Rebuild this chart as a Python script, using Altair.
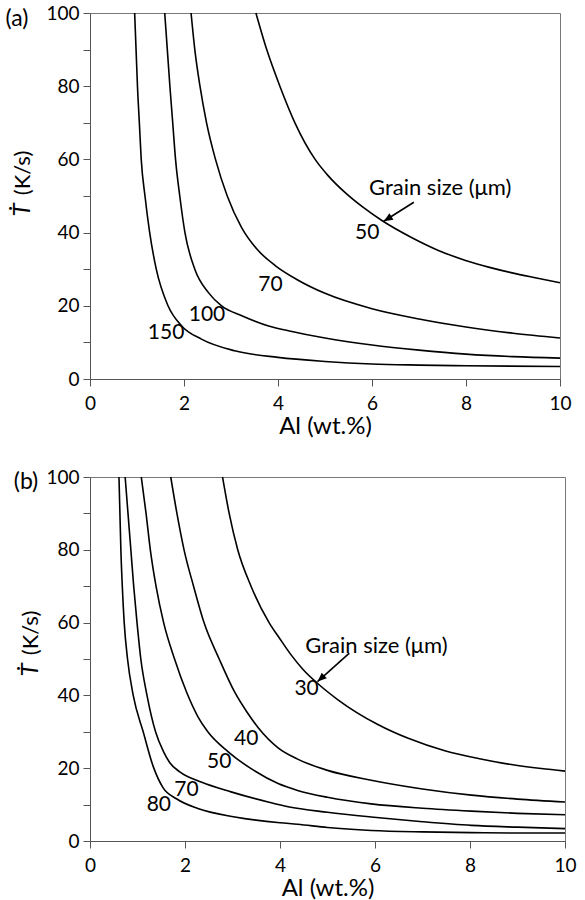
import altair as alt
import pandas as pd

FONT = "Lato"

# ---------------- Panel (a) data ----------------
A_SIZES = [50, 70, 100, 150]
A50_X = [3.53, 3.76, 4.04, 4.36, 4.79, 5.07, 5.43, 5.8, 6.21, 6.85, 7.4, 7.99, 8.5, 8.98, 9.5, 10.0]
A50_Y = [100, 90, 80, 70, 60, 55.5, 50.9, 47.0, 43.3, 38.6, 35.2, 32.4, 30.5, 29.0, 27.6, 26.3]
A70_X = [2.15, 2.23, 2.34, 2.48, 2.67, 2.92, 3.22, 3.55, 3.94, 4.4, 5.0, 6.0, 7.0, 8.0, 9.0, 10.0]
A70_Y = [100, 90, 80, 70, 60, 50, 41.5, 35.5, 31, 27.2, 23.4, 19.2, 16.4, 14.2, 12.5, 11.2]
A100_X = [1.59, 1.645, 1.70, 1.76, 1.82, 1.91, 2.02, 2.23, 2.52, 2.80, 3.23, 3.8, 4.22, 5.0, 6.0, 7.0, 8.0, 9.0, 10.0]
A100_Y = [100, 90, 80, 70, 60, 50, 40, 30, 23.6, 20, 17.3, 14.5, 13.2, 11.2, 9.3, 7.9, 6.8, 6.1, 5.7]
A150_X = [0.95, 0.98, 1.01, 1.05, 1.09, 1.17, 1.27, 1.41, 1.66, 1.95, 2.37, 3.08, 4.0, 5.0, 6.0, 7.0, 8.0, 10.0]
A150_Y = [100, 90, 80, 70, 60, 50, 40, 30, 20, 14.5, 10.9, 7.7, 5.9, 4.8, 4.1, 3.8, 3.6, 3.4]

A_LABEL_TEXT = ["50", "70", "100", "150"]
A_LABEL_X = [5.90, 3.84, 2.49, 1.62]
A_LABEL_Y = [40.0, 25.7, 17.5, 12.5]
A_NOTE_X = [7.45]
A_NOTE_Y = [52.2]
A_ARROW_FROM = [6.89, 48.3]
A_ARROW_TO = [6.25, 43.1]

# ---------------- Panel (b) data ----------------
B_SIZES = [30, 40, 50, 70, 80]
B30_X = [2.79, 2.93, 3.11, 3.39, 3.77, 4.0, 4.23, 4.48, 4.8, 5.22, 6.06, 6.7, 7.47, 8.2, 8.87, 9.5, 10.0]
B30_Y = [100, 90, 80, 70, 60, 55.5, 51.2, 47.2, 43.2, 38.8, 32.0, 28.2, 24.8, 22.6, 21.0, 19.9, 19.2]
B40_X = [1.70, 1.83, 1.98, 2.18, 2.40, 2.72, 3.05, 3.3, 3.55, 3.96, 4.37, 5.0, 5.92, 7.0, 8.03, 9.0, 10.0]
B40_Y = [100, 90, 80, 70, 60, 50, 40.8, 35.5, 31.0, 25.6, 22.5, 19.4, 16.7, 14.3, 12.6, 11.5, 10.7]
B50_X = [1.08, 1.18, 1.27, 1.39, 1.55, 1.78, 2.03, 2.27, 2.48, 2.91, 3.40, 3.96, 4.37, 5.0, 5.92, 7.0, 8.03, 9.0, 10.0]
B50_Y = [100, 90, 80, 70, 60, 50, 41, 34.2, 30, 24.5, 19.8, 15.8, 13.9, 12.0, 10.2, 9.0, 8.2, 7.6, 7.2]
B70_X = [0.74, 0.80, 0.86, 0.92, 0.99, 1.07, 1.20, 1.38, 1.55, 1.68, 1.89, 2.34, 2.97, 3.75, 4.17, 5.0, 5.92, 7.0, 8.03, 9.0, 10.0]
B70_Y = [100, 90, 80, 70, 60, 50, 40, 30, 24.5, 21.5, 19, 16.2, 13.5, 10.7, 9.4, 7.9, 6.6, 5.3, 4.3, 3.8, 3.4]
B80_X = [0.61, 0.63, 0.65, 0.68, 0.72, 0.79, 0.91, 1.12, 1.33, 1.54, 1.82, 2.27, 3.05, 4.0, 4.37, 5.0, 5.92, 7.0, 8.03, 9.0, 10.0]
B80_Y = [100, 90, 80, 70, 60, 50, 40, 30, 20.5, 14.6, 11.6, 8.9, 6.6, 5.0, 4.6, 3.7, 2.9, 2.5, 2.3, 2.2, 2.2]

B_LABEL_TEXT = ["30", "40", "50", "70", "80"]
B_LABEL_X = [4.56, 3.29, 2.72, 2.03, 1.45]
B_LABEL_Y = [41.8, 28.1, 21.7, 14.0, 9.9]
B_NOTE_X = [6.03]
B_NOTE_Y = [53.7]
B_ARROW_FROM = [5.46, 51.6]
B_ARROW_TO = [4.79, 43.8]

NOTE_TEXT = "Grain size (\u03bcm)"
PANEL_TAGS = ["(a)", "(b)"]
X_TITLE = "Al (wt.%)"
Y_TITLE_SYMBOL = "\u1e6a"
Y_TITLE_UNIT = "(K/s)"
X_TICKS = [0, 2, 4, 6, 8, 10]
Y_TICKS = [0, 10, 20, 30, 40, 50, 60, 70, 80, 90, 100]


def panel(curves, sizes, lab_text, lab_x, lab_y, note_x, note_y, a_from, a_to,
          arrow_angle, tag, tag_pos, ytitle_pos, w, h):
    rows = []
    for s, (xs, ys) in zip(sizes, curves):
        for xv, yv in zip(xs, ys):
            rows.append({"size": s, "x": xv, "y": yv})
    df = pd.DataFrame(rows)

    xscale = alt.Scale(domain=[0, 10], nice=False, zero=False)
    yscale = alt.Scale(domain=[0, 100], nice=False, zero=False)
    xax = alt.Axis(values=X_TICKS, title=X_TITLE, labelPadding=8, titlePadding=1,
                   labelFlush=False)
    yax = alt.Axis(values=Y_TICKS, title=None, labelPadding=4,
                   labelExpr="datum.value % 20 === 0 ? datum.label : ''")

    def X(f):
        return alt.X(f, type="quantitative", scale=xscale, axis=xax)

    def Y(f):
        return alt.Y(f, type="quantitative", scale=yscale, axis=yax)

    lines = alt.Chart(df).mark_line(color="black", strokeWidth=1.6,
                                    interpolate="monotone").encode(
        x=X("x"), y=Y("y"), detail="size:N")

    ldf = pd.DataFrame({"x": lab_x, "y": lab_y, "t": lab_text})
    labels = alt.Chart(ldf).mark_text(font=FONT, fontSize=21, color="black").encode(
        x=X("x"), y=Y("y"), text="t:N")

    ndf = pd.DataFrame({"x": note_x, "y": note_y, "t": [NOTE_TEXT]})
    note = alt.Chart(ndf).mark_text(font=FONT, fontSize=22, color="black").encode(
        x=X("x"), y=Y("y"), text="t:N")

    adf = pd.DataFrame({"x": [a_from[0]], "y": [a_from[1]],
                        "x2": [a_to[0]], "y2": [a_to[1]]})
    arrow = alt.Chart(adf).mark_rule(color="black", strokeWidth=1.6).encode(
        x=X("x"), y=Y("y"), x2="x2", y2="y2")
    head = alt.Chart(adf).mark_point(shape="M0,0L-0.42,1L0.42,1Z", filled=True,
                                     size=330, angle=arrow_angle, color="black",
                                     opacity=1).encode(x=X("x2"), y=Y("y2"))

    tdf = pd.DataFrame({"t": [tag]})
    tag_mark = alt.Chart(tdf).mark_text(font=FONT, fontSize=23, color="black").encode(
        text="t:N", x=alt.value(tag_pos[0]), y=alt.value(tag_pos[1]))

    sdf = pd.DataFrame({"t": [Y_TITLE_SYMBOL]})
    ysym = alt.Chart(sdf).mark_text(font=FONT, fontSize=24, fontStyle="italic",
                                    color="black", angle=270).encode(
        text="t:N", x=alt.value(ytitle_pos[0]), y=alt.value(ytitle_pos[1]))
    udf = pd.DataFrame({"t": [Y_TITLE_UNIT]})
    yunit = alt.Chart(udf).mark_text(font=FONT, fontSize=22, color="black",
                                     angle=270).encode(
        text="t:N", x=alt.value(ytitle_pos[0]), y=alt.value(ytitle_pos[2]))

    return alt.layer(lines, labels, note, arrow, head, tag_mark, ysym, yunit).properties(
        width=w, height=h)


pa = panel([(A50_X, A50_Y), (A70_X, A70_Y), (A100_X, A100_Y), (A150_X, A150_Y)],
           A_SIZES, A_LABEL_TEXT, A_LABEL_X, A_LABEL_Y, A_NOTE_X, A_NOTE_Y,
           A_ARROW_FROM, A_ARROW_TO, 238, PANEL_TAGS[0], (-73, 6), (-67, 197, 160),
           470, 366)
pb = panel([(B30_X, B30_Y), (B40_X, B40_Y), (B50_X, B50_Y), (B70_X, B70_Y), (B80_X, B80_Y)],
           B_SIZES, B_LABEL_TEXT, B_LABEL_X, B_LABEL_Y, B_NOTE_X, B_NOTE_Y,
           B_ARROW_FROM, B_ARROW_TO, 228, PANEL_TAGS[1], (-64, 5), (-59, 193, 156),
           475, 364)

chart = alt.vconcat(pa, pb, spacing=28).properties(
    padding={"left": 5, "top": 3, "right": 5, "bottom": 0}
).configure_axis(
    domainColor="#555", tickColor="#555", labelColor="black", titleColor="black",
    labelFont=FONT, titleFont=FONT, labelFontSize=19, titleFontSize=24,
    titleFontWeight="normal", grid=False, tickSize=7, domainWidth=1, tickWidth=1
).configure_view(stroke="#777", strokeWidth=1)

chart.save("out.html", embed_options={"renderer": "svg", "actions": False})
